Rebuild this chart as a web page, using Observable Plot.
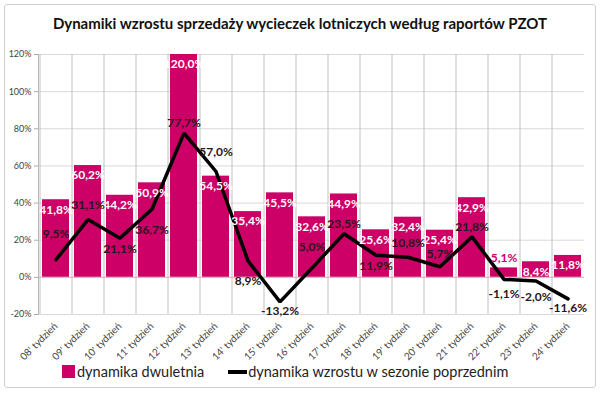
<!DOCTYPE html>
<html><head><meta charset="utf-8">
<script src="https://cdn.jsdelivr.net/npm/d3@7"></script>
<script src="https://cdn.jsdelivr.net/npm/@observablehq/plot@0.6"></script>
<style>
body{margin:0;background:#fff;font-family:Lato,"Open Sans",sans-serif;}
#wrap{position:relative;width:600px;height:393px;overflow:hidden;}
#border{position:absolute;left:4px;top:4px;width:590px;height:382px;border:1px solid #cfcfcf;border-radius:3px;}
#title{position:absolute;left:0;top:14px;width:600px;text-align:center;font-weight:bold;font-size:15px;color:#111;}
#chart{position:absolute;left:0;top:40px;}
#legend{position:absolute;top:363px;left:62px;font-size:14.5px;color:#222;display:flex;align-items:center;white-space:nowrap;}
.sw{display:inline-block;width:13px;height:13px;background:#cc0066;margin-right:2px;}
.ln{display:inline-block;width:19px;height:4px;background:#000;margin-left:24px;margin-right:1px;}
</style></head>
<body>
<div id="wrap">
<div id="border"></div>
<div id="title">Dynamiki wzrostu sprzedaży wycieczek lotniczych według raportów PZOT</div>
<div id="chart"></div>
<div id="legend"><span class="sw"></span>dynamika dwuletnia<span class="ln"></span>dynamika wzrostu w sezonie poprzednim</div>
</div>
<script>
const weeks = ["08' tydzień","09' tydzień","10' tydzień","11' tydzień","12' tydzień","13' tydzień","14' tydzień","15' tydzień","16' tydzień","17' tydzień","18' tydzień","19' tydzień","20' tydzień","21' tydzień","22' tydzień","23' tydzień","24' tydzień"];
const dwuletnia = [41.8,60.2,44.2,50.9,120.0,54.5,35.4,45.5,32.6,44.9,25.6,32.4,25.4,42.9,5.1,8.4,11.8];
const sezon = [9.5,31.1,21.1,36.7,77.7,57.0,8.9,-13.2,5.0,23.5,11.9,10.8,5.7,21.8,-1.1,-2.0,-11.6];
const yTicks = [-20,0,20,40,60,80,100,120];

// label placement (style): vertical pixel offsets for the line's value labels
const lineLabelDy = [-26,-14,11,21,-10,-19,20,9,-21,-10,11,-14,-13,-10,15,16,9];

const fmt = v => v.toFixed(1).replace(".", ",") + "%";
const data = weeks.map((w,i)=>({week:w, dw:dwuletnia[i], sez:sezon[i], dy:lineLabelDy[i]}));

const lineLabelMarks = Array.from(new Set(lineLabelDy)).map(off =>
  Plot.text(data.filter(d=>d.dy===off), {x:"week", y:"sez", text:d=>fmt(d.sez), dy:off, fill:"#2a1520", fontWeight:"bold", fontSize:12})
);

const plot = Plot.plot({
  width:600, height:326, marginTop:14, marginLeft:38, marginRight:16, marginBottom:52,
  style:{fontFamily:"Lato, 'Open Sans', sans-serif", background:"transparent", overflow:"visible"},
  x:{domain:weeks, paddingInner:0.16, paddingOuter:0.08, label:null},
  y:{domain:[-20,120], label:null},
  marks:[
    Plot.gridY(yTicks, {stroke:"#d9d9d9", strokeOpacity:1}),
    Plot.barY(data, {x:"week", y:"dw", fill:"#cc0066"}),
    Plot.ruleY([0], {stroke:"#c0c0c0"}),
    Plot.tickX(data, {x:"week", y1:0, y2:-2, dx:-16, stroke:"#c0c0c0"}),
    Plot.lineY(data, {x:"week", y:"sez", stroke:"#000", strokeWidth:3.5, strokeLinejoin:"miter"}),
    Plot.text(data.filter(d=>d.dw>=8), {x:"week", y:"dw", text:d=>fmt(d.dw), dy:10, fill:"#fff", fontWeight:"bold", fontSize:12}),
    Plot.text(data.filter(d=>d.dw<8), {x:"week", y:"dw", text:d=>fmt(d.dw), dy:-10, fill:"#cc0066", fontWeight:"bold", fontSize:12}),
    ...lineLabelMarks,
    Plot.axisY(yTicks, {tickSize:4, tickPadding:3, tickFormat:d=>d+"%", fontSize:9, fill:"#444", stroke:"#aaa"}),
    Plot.frame({anchor:"left", stroke:"#bbb"}),
    Plot.axisX({tickRotate:-45, tickSize:0, tickPadding:10, fontSize:10, fill:"#444"})
  ]
});
document.getElementById("chart").appendChild(plot);
</script>
</body></html>
